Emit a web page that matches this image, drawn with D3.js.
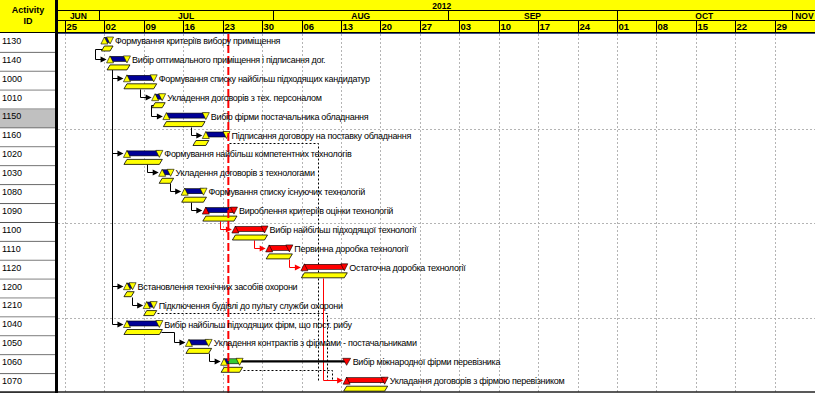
<!DOCTYPE html>
<html><head><meta charset="utf-8">
<script src="https://cdn.jsdelivr.net/npm/d3@7"></script>
<style>
body{margin:0;background:#fff;overflow:hidden}
svg{display:block}
text{font-family:Arial,"Liberation Sans",sans-serif}
</style>
</head><body>
<svg id="c" width="815" height="393"></svg>
<script>
// ---------------- data ----------------
const ids = ["1130","1140","1000","1010","1150","1160","1020","1030","1080","1090","1100","1110","1120","1200","1210","1040","1050","1060","1070"];
const names = [
 "Формування критеріїв вибору приміщення",
 "Вибір оптимального приміщення і підписання дог.",
 "Формування списку найбільш підходящих кандидатур",
 "Укладення договорів з тех. персоналом",
 "Вибір фірми постачальника обладнання",
 "Підписання договору на поставку обладнання",
 "Формування найбільш компетентних технологів",
 "Укладення договорів з технологами",
 "Формування списку існуючих технологій",
 "Вироблення критеріїв оцінки технологій",
 "Вибір найбільш підходящої технології",
 "Первинна доробка технології",
 "Остаточна доробка технології",
 "Встановлення технічних засобів охорони",
 "Підключення будівлі до пульту служби охорони",
 "Вибір найбільш підходящих фірм, що пост. рибу",
 "Укладення контрактів з фірмами - постачальниками",
 "Вибір міжнародної фірми перевізника",
 "Укладання договорів з фірмою перевізником"
];
const startDates = ["2012-07-02","2012-07-03","2012-07-06","2012-07-11","2012-07-13","2012-07-20","2012-07-06","2012-07-12 06","2012-07-16 06","2012-07-20","2012-07-25 06","2012-07-31 06","2012-08-06 12","2012-07-06","2012-07-09 12","2012-07-06","2012-07-17","2012-07-23 06","2012-08-14"];
const finishDates = ["2012-07-03","2012-07-06","2012-07-10 18","2012-07-12 06","2012-07-20","2012-07-23 16","2012-07-11 18","2012-07-13 18","2012-07-19 14","2012-07-25","2012-07-30 10","2012-08-03 20","2012-08-13 14","2012-07-07","2012-07-10 18","2012-07-11 18","2012-07-20 12","2012-07-26","2012-08-20 18"];
const baselineStart = ["2012-07-02","2012-07-03","2012-07-06","2012-07-11","2012-07-13","2012-07-18 06","2012-07-06","2012-07-12 06","2012-07-16 06","2012-07-20","2012-07-25 06","2012-07-31 06","2012-08-06 12","2012-07-06","2012-07-09 12","2012-07-06","2012-07-17","2012-07-23 06","2012-08-14"];
const baselineFinish = ["2012-07-03","2012-07-06","2012-07-10 18","2012-07-12 06","2012-07-19 08","2012-07-20","2012-07-11 18","2012-07-13 18","2012-07-19 14","2012-07-25","2012-07-30 10","2012-08-03 20","2012-08-13 14","2012-07-06 18","2012-07-10 18","2012-07-11 18","2012-07-20 12","2012-07-26","2012-08-20 18"];
const critical = [false,false,false,false,false,false,false,false,false,true,true,true,true,false,false,false,false,false,true];
const floatFinish = [null,null,null,null,null,null,null,null,null,null,null,null,null,null,null,null,null,"2012-08-14",null];
const highlightedId = "1150";
const dataDate = "2012-07-24";

// relationships: predecessor, successor, kind (d = driving, c = critical, n = non-driving), routing lane
const relPred = ["1130","1140","1140","1140","1140","1000","1010","1150","1020","1030","1080","1090","1100","1110","1200","1040","1050","1160","1210","1120","1060"];
const relSucc = ["1140","1000","1020","1200","1040","1010","1150","1160","1030","1080","1090","1100","1110","1120","1210","1050","1060","1070","1070","1070","1070"];
const relKind = ["d","d","d","d","d","d","d","d","d","d","d","c","c","c","d","d","d","n","n","c","n"];
const relLane = [0,0,0,0,0,0,0,0,0,0,0,0,0,0,0,0,0,3,1,2,0];

const yearLabel = "2012";
const monthStarts = ["2012-06-01","2012-07-01","2012-08-01","2012-09-01","2012-10-01","2012-11-01"];
const monthLabels = ["JUN","JUL","AUG","SEP","OCT","NOV"];
const weekTicks = ["2012-06-25","2012-07-02","2012-07-09","2012-07-16","2012-07-23","2012-07-30","2012-08-06","2012-08-13","2012-08-20","2012-08-27","2012-09-03","2012-09-10","2012-09-17","2012-09-24","2012-10-01","2012-10-08","2012-10-15","2012-10-22","2012-10-29"];
const weekLabels = ["25","02","09","16","23","30","06","13","20","27","03","10","17","24","01","08","15","22","29"];
const timelineEnd = "2012-11-07";

// ---------------- drawing ----------------
const P = s => (s.length > 10 ? d3.timeParse("%Y-%m-%d %H") : d3.timeParse("%Y-%m-%d"))(s);
const W = 815, H = 393;
const chartL = 58, headerH = 34;
const svg = d3.select("#c");

const x = d3.scaleTime().domain([P("2012-06-25"), P("2012-10-01")]).range([65, 617]);
const y = d3.scaleBand().domain(ids).range([headerH, headerH + ids.length * 18.9]);
const rh = y.bandwidth();
const endX = x(P(timelineEnd));

const BLUE = "#000096", RED = "#ff0000", YEL = "#ffff00", GREEN = "#33cc33";

// background
svg.append("rect").attr("width", W).attr("height", H).attr("fill", "#fff");

// ID column rows
const idg = svg.append("g");
ids.forEach((id) => {
  const t = y(id);
  idg.append("rect").attr("x", 0).attr("y", t).attr("width", 55).attr("height", rh)
     .attr("fill", id === highlightedId ? "#c0c0c0" : "#fff");
  idg.append("line").attr("x1", 0).attr("x2", 55).attr("y1", t + rh - 0.5).attr("y2", t + rh - 0.5)
     .attr("stroke", "#555").attr("stroke-width", 1);
  idg.append("line").attr("x1", 0).attr("x2", 55).attr("y1", t + rh + 0.5).attr("y2", t + rh + 0.5)
     .attr("stroke", "#b8b8b8").attr("stroke-width", 1);
  idg.append("text").attr("x", 2).attr("y", t + 9.8).attr("font-size", 9).attr("fill", "#000").text(id);
});

// chart grid
const grid = svg.append("g");
weekTicks.forEach(w => {
  const gx = Math.round(x(P(w))) + 0.5;
  grid.append("line").attr("x1", gx).attr("x2", gx).attr("y1", headerH).attr("y2", H)
    .attr("stroke", "#b4b4b4").attr("stroke-dasharray", "2,2");
});
ids.forEach((id, i) => {
  if (i > 0 && i % 5 === 0) {
    const gy = Math.round(y(id)) + 0.5;
    grid.append("line").attr("x1", chartL).attr("x2", W).attr("y1", gy).attr("y2", gy)
      .attr("stroke", "#b4b4b4").attr("stroke-dasharray", "2,2");
  }
});

// relationships
const rel = svg.append("g").attr("fill", "none");
const arrows = svg.append("g");
relPred.forEach((p, k) => {
  const s = relSucc[k], kind = relKind[k];
  const pi = ids.indexOf(p), si = ids.indexOf(s);
  const tp = y(p), ts = y(s);
  const bx0 = x(P(baselineStart[pi])), bx1 = x(P(baselineFinish[pi]));
  const sx = x(P(startDates[si]));
  const ym = ts + 6;
  const tip = sx - 3.5;
  const dx = sx - 15 - relLane[k] * 4.5;
  let pts;
  if (kind === "n") {
    const cx1 = x(P(finishDates[pi])) + 3;
    pts = [[cx1, tp + 14.5], [dx, tp + 14.5], [dx, ym]];
  } else if (dx < bx0 - 2) {
    pts = [[bx0 - 1.5, tp + 14.5], [dx, tp + 14.5], [dx, ym], [tip - 5, ym]];
  } else if (dx > bx1 + 2) {
    pts = [[bx1 + 1.5, tp + 14.5], [dx, tp + 14.5], [dx, ym], [tip - 5, ym]];
  } else {
    pts = [[dx, tp + 17], [dx, ym], [tip - 5, ym]];
  }
  const col = kind === "c" ? RED : "#000";
  rel.append("path").attr("d", d3.line()(pts.map(q => [Math.round(q[0]) + 0.5, Math.round(q[1]) + 0.5])))
    .attr("stroke", col).attr("stroke-width", 1)
    .attr("stroke-dasharray", kind === "n" ? "2,2" : null);
  if (kind !== "n") {
    const ay = Math.round(ym) + 0.5;
    arrows.append("path").attr("d", `M${tip},${ay}L${tip - 6},${ay - 3}L${tip - 6},${ay + 3}Z`).attr("fill", col);
  }
});

// bars
const bars = svg.append("g");
const labels = [];
const dd = x(P(dataDate));
ids.forEach((id, i) => {
  const t = y(id);
  const xs = x(P(startDates[i])), xe = x(P(finishDates[i]));
  const b0 = x(P(baselineStart[i])), b1 = x(P(baselineFinish[i]));
  bars.append("path")
    .attr("d", `M${b0},${t + 12}L${b1 + 3},${t + 12}L${b1},${t + 17}L${b0 - 3},${t + 17}Z`)
    .attr("fill", YEL).attr("stroke", "#000").attr("stroke-width", 0.8);
  const crit = critical[i];
  const remainCol = floatFinish[i] ? GREEN : RED;
  if (xs < dd) {
    bars.append("rect").attr("x", xs).attr("y", t + 3.5).attr("width", Math.max(0, Math.min(xe, dd) - xs)).attr("height", 5)
      .attr("fill", BLUE).attr("stroke", "#000").attr("stroke-width", 0.6);
  }
  if (xe > dd) {
    const s0 = Math.max(xs, dd);
    bars.append("rect").attr("x", s0).attr("y", t + 3.5).attr("width", xe - s0).attr("height", 5)
      .attr("fill", remainCol).attr("stroke", "#000").attr("stroke-width", 0.6);
  }
  let labelX = xe + 5;
  if (floatFinish[i]) {
    const fx = x(P(floatFinish[i]));
    bars.append("line").attr("x1", xe).attr("x2", fx).attr("y1", t + 6).attr("y2", t + 6)
      .attr("stroke", "#000").attr("stroke-width", 2.2);
    bars.append("path").attr("d", `M${fx - 4},${t + 3}L${fx + 4},${t + 3}L${fx},${t + 10}Z`)
      .attr("fill", RED).attr("stroke", "#000").attr("stroke-width", 0.6);
    labelX = fx + 6;
  }
  const triCol = crit ? RED : YEL;
  bars.append("path").attr("d", `M${xs - 3.5},${t + 10}L${xs + 3.5},${t + 10}L${xs},${t + 3}Z`)
    .attr("fill", triCol).attr("stroke", "#000").attr("stroke-width", 0.6);
  bars.append("path").attr("d", `M${xe - 3.5},${t + 3}L${xe + 3.5},${t + 3}L${xe},${t + 10}Z`)
    .attr("fill", triCol).attr("stroke", "#000").attr("stroke-width", 0.6);
  labels.push([labelX, t + 10, names[i]]);
});

// data date line
svg.append("line").attr("x1", dd).attr("x2", dd).attr("y1", headerH).attr("y2", H)
  .attr("stroke", RED).attr("stroke-width", 2).attr("stroke-dasharray", "8,3");

// activity labels
svg.append("g").selectAll("text").data(labels).join("text")
  .attr("x", d => d[0]).attr("y", d => d[1]).attr("font-size", 9).attr("letter-spacing", -0.3)
  .attr("fill", "#000").text(d => d[2]);

// bottom line
svg.append("line").attr("x1", 0).attr("x2", W).attr("y1", 392).attr("y2", 392).attr("stroke", "#222").attr("stroke-width", 1.5);

// ---------------- header ----------------
const hd = svg.append("g");
hd.append("rect").attr("x", 0).attr("y", 0).attr("width", W).attr("height", 32.5).attr("fill", YEL);
hd.append("text").attr("x", 28).attr("y", 13).attr("text-anchor", "middle").attr("font-size", 9).attr("font-weight", "bold").text("Activity");
hd.append("text").attr("x", 28).attr("y", 24).attr("text-anchor", "middle").attr("font-size", 9).attr("font-weight", "bold").text("ID");
hd.append("text").attr("x", (chartL + endX) / 2).attr("y", 8.5).attr("text-anchor", "middle")
  .attr("font-size", 8.5).attr("font-weight", "bold").text(yearLabel);
[10.5, 20.5].forEach(ly => hd.append("line").attr("x1", chartL).attr("x2", W).attr("y1", ly).attr("y2", ly).attr("stroke", "#000"));
monthStarts.forEach((m, k) => {
  const a = Math.max(chartL, x(P(m)));
  const b = k < monthStarts.length - 1 ? x(P(monthStarts[k + 1])) : endX;
  if (x(P(m)) > chartL) {
    const mx = Math.round(x(P(m))) + 0.5;
    hd.append("line").attr("x1", mx).attr("x2", mx).attr("y1", 10.5).attr("y2", 20.5).attr("stroke", "#000");
  }
  // keep the label inside the visible header
  const half = monthLabels[k].length * 3.2;
  const cx = Math.min((a + b) / 2, W - 1 - half);
  hd.append("text").attr("x", cx).attr("y", 18.5).attr("text-anchor", "middle")
    .attr("font-size", 8.5).attr("font-weight", "bold").text(monthLabels[k]);
});
weekTicks.forEach((w, k) => {
  const wx = Math.round(x(P(w))) + 0.5;
  hd.append("line").attr("x1", wx).attr("x2", wx).attr("y1", 20.5).attr("y2", 32.5).attr("stroke", "#000");
  hd.append("text").attr("x", wx + 1).attr("y", 30).attr("font-size", 9.5).attr("font-weight", "bold").text(weekLabels[k]);
});
hd.append("line").attr("x1", 0).attr("x2", W).attr("y1", 32.5).attr("y2", 32.5).attr("stroke", "#000");
hd.append("line").attr("x1", chartL).attr("x2", W).attr("y1", 33.5).attr("y2", 33.5).attr("stroke", "#3d4f86").attr("stroke-width", 1);
svg.append("rect").attr("x", 55).attr("y", 0).attr("width", 3).attr("height", H).attr("fill", "#000");
</script>
</body></html>
